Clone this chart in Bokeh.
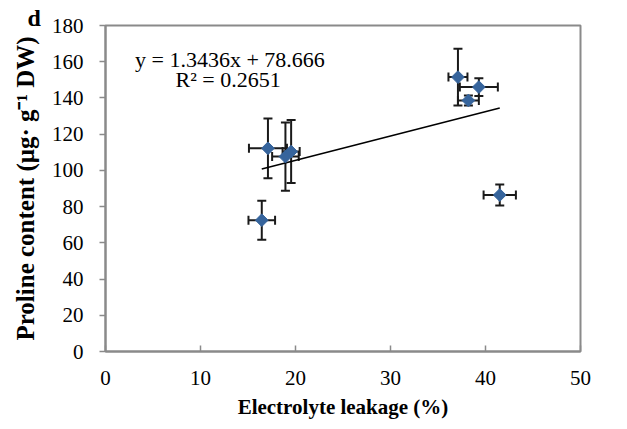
import numpy as np
from bokeh.plotting import figure
from bokeh.models import Range1d, FixedTicker, Whisker, TeeHead, ColumnDataSource, Label
from bokeh.embed import file_html
from bokeh.resources import INLINE

# ---- data ----
leakage = [17.1, 16.45, 18.94, 19.54, 37.1, 39.3, 38.2, 41.5]
leakage_err = [2.0, 1.4, 1.4, 0.9, 1.0, 2.0, 1.1, 1.7]
proline = [112.2, 72.5, 107.6, 110.4, 151.5, 146.0, 138.6, 86.4]
proline_err = [16.5, 10.8, 18.8, 17.4, 15.7, 4.9, 2.8, 5.8]
slope = 1.3436
intercept = 78.666
r_squared = 0.2651
x_ticks = [0, 10, 20, 30, 40, 50]
y_ticks = [0, 20, 40, 60, 80, 100, 120, 140, 160, 180]

FONT = "Liberation Serif"
AXIS_COL = "#8a8a8a"

x = np.array(leakage)
y = np.array(proline)
xe = np.array(leakage_err)
ye = np.array(proline_err)

src = ColumnDataSource(dict(
    x=x, y=y,
    xl=x - xe, xu=x + xe,
    yl=y - ye, yu=y + ye,
))

p = figure(frame_width=475, frame_height=326,
           x_range=Range1d(0, 50), y_range=Range1d(0, 180),
           output_backend="svg", toolbar_location=None,
           min_border_left=105, min_border_right=47,
           min_border_top=25, min_border_bottom=78)
p.background_fill_color = "white"
p.border_fill_color = "white"
p.outline_line_color = AXIS_COL
p.outline_line_width = 2
p.xgrid.visible = False
p.ygrid.visible = False

# panel letter as the figure title
p.title.text = "d"
p.title.align = "left"
p.title.offset = -78
p.title.standoff = -10
p.title.text_font = FONT
p.title.text_font_style = "bold"
p.title.text_font_size = "24px"
p.title.text_color = "black"

# axes
p.xaxis.ticker = FixedTicker(ticks=x_ticks)
p.yaxis.ticker = FixedTicker(ticks=y_ticks)
p.xaxis.minor_tick_line_color = None
p.yaxis.minor_tick_line_color = None
for ax in (p.xaxis[0], p.yaxis[0]):
    ax.axis_line_color = AXIS_COL
    ax.axis_line_width = 2
    ax.major_tick_line_color = AXIS_COL
    ax.major_tick_line_width = 1.5
    ax.major_label_text_font = FONT
    ax.major_label_text_font_size = "21px"
    ax.major_label_text_color = "black"
    ax.axis_label_text_font = FONT
    ax.axis_label_text_font_style = "bold"
    ax.axis_label_text_color = "black"

p.xaxis.major_tick_in = 6
p.xaxis.major_tick_out = 0
p.xaxis.major_label_standoff = 19
p.xaxis.axis_label = "Electrolyte leakage (%)"
p.xaxis.axis_label_text_font_size = "21px"
p.xaxis.axis_label_standoff = 7

p.yaxis.major_tick_in = 0
p.yaxis.major_tick_out = 6
p.yaxis.major_label_standoff = 16
p.yaxis.axis_label = "Proline content (μg· g⁻¹ DW)"
p.yaxis.axis_label_text_font_size = "25px"
p.yaxis.axis_label_standoff = 10

# trend line from fitted equation across data range
tx = np.array([x.min(), x.max()])
ty = slope * tx + intercept
p.line(tx, ty, line_color="black", line_width=1.5)

# error bars
EB = "#1a1a1a"
p.add_layout(Whisker(source=src, base="x", lower="yl", upper="yu", dimension="height",
                     line_color=EB, line_width=2,
                     upper_head=TeeHead(size=9, line_color=EB, line_width=2),
                     lower_head=TeeHead(size=9, line_color=EB, line_width=2)))
p.add_layout(Whisker(source=src, base="y", lower="xl", upper="xu", dimension="width",
                     line_color=EB, line_width=2,
                     upper_head=TeeHead(size=9, line_color=EB, line_width=2),
                     lower_head=TeeHead(size=9, line_color=EB, line_width=2)))

# markers (diamonds)
p.scatter("x", "y", source=src, marker="square", angle=np.pi / 4, size=9,
          fill_color="#36649c", line_color="#36649c")

# equation text
p.add_layout(Label(x=13.1, y=161.4, text=f"y = {slope}x + {intercept}",
                   text_font=FONT, text_font_size="22px", text_align="center",
                   text_baseline="middle", text_color="black"))
p.add_layout(Label(x=12.9, y=150.3, text=f"R² = {r_squared}",
                   text_font=FONT, text_font_size="22px", text_align="center",
                   text_baseline="middle", text_color="black"))

html = file_html(p, INLINE)
open("out.html", "w").write(html)
